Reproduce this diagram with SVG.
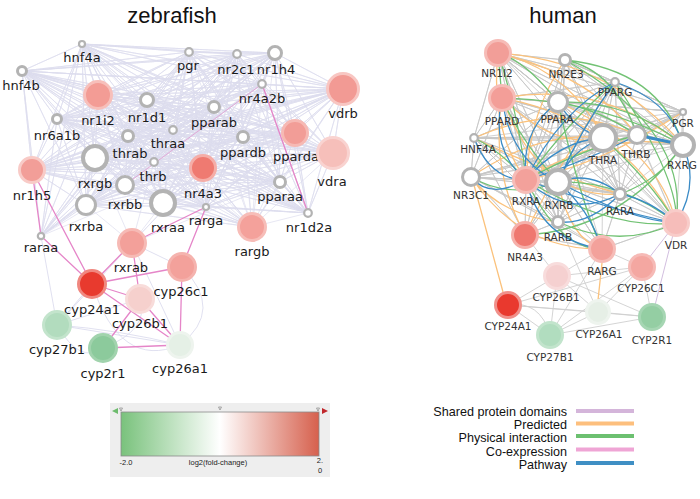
<svg xmlns="http://www.w3.org/2000/svg" width="700" height="499" viewBox="0 0 700 499">
<style>
.t{font-family:"Liberation Sans",Arial,sans-serif;font-size:22px;fill:#111;text-anchor:middle}
.zl{font-family:"DejaVu Sans",Verdana,sans-serif;font-size:13px;fill:#1a1a1a;text-anchor:middle}
.hl{font-family:"DejaVu Sans",Verdana,sans-serif;font-size:10.5px;fill:#333;text-anchor:middle}
.lg{font-family:"Liberation Sans",Arial,sans-serif;font-size:12.6px;fill:#111;text-anchor:end}
.cb{font-family:"Liberation Sans",Arial,sans-serif;font-size:7.5px;fill:#222;text-anchor:middle}
.g{fill:#fff;stroke:#b3b3b3;stroke-width:3}
.g2{fill:#fff;stroke:#b3b3b3;stroke-width:2.2}
.g4{fill:#fff;stroke:#b3b3b3;stroke-width:4}
.s{stroke-width:3}
.e{fill:none}
</style>
<defs>
<linearGradient id="fc" x1="0" y1="0" x2="1" y2="0">
<stop offset="0" stop-color="#79C27C"/>
<stop offset="0.5" stop-color="#FFFFFF"/>
<stop offset="1" stop-color="#D6604D"/>
</linearGradient>
</defs>
<rect width="700" height="499" fill="#fff"/>
<text class="t" x="172" y="23">zebrafish</text>
<text class="t" x="563" y="23">human</text>

<g id="connectors">
<g id="zebrafish-edges" class="e">
<path stroke="#DCDCEE" stroke-width="0.7" d="M82 44 22 71 82 44 189 52 82 44 237 54 82 44 275 53 82 44 98 95 82 44 147 100 82 44 57 119 82 44 214 107 82 44 262 84 82 44 343 89 82 44 128 136 82 44 173 130 82 44 243 137 82 44 295 133 82 44 333 153 82 44 32 170 82 44 95 158 82 44 154 162 82 44 203 168 82 44 280 182 82 44 125 185 82 44 86 205 82 44 163 203 82 44 206 207 82 44 308 213 82 44 41 236 82 44 252 227
M22 71 189 52 22 71 237 54 22 71 275 53 22 71 98 95 22 71 147 100 22 71 57 119 22 71 214 107 22 71 262 84 22 71 343 89 22 71 128 136 22 71 173 130 22 71 243 137 22 71 295 133 22 71 333 153 22 71 32 170 22 71 95 158 22 71 154 162 22 71 203 168 22 71 280 182 22 71 125 185 22 71 86 205 22 71 163 203 22 71 206 207 22 71 308 213 22 71 41 236 22 71 252 227
M189 52 237 54 189 52 275 53 189 52 98 95 189 52 147 100 189 52 57 119 189 52 214 107 189 52 262 84 189 52 343 89 189 52 128 136 189 52 173 130 189 52 243 137 189 52 295 133 189 52 333 153 189 52 32 170 189 52 95 158 189 52 154 162 189 52 203 168 189 52 280 182 189 52 125 185 189 52 86 205 189 52 163 203 189 52 206 207 189 52 308 213 189 52 41 236 189 52 252 227
M237 54 275 53 237 54 98 95 237 54 147 100 237 54 57 119 237 54 214 107 237 54 262 84 237 54 343 89 237 54 128 136 237 54 173 130 237 54 243 137 237 54 295 133 237 54 333 153 237 54 32 170 237 54 95 158 237 54 154 162 237 54 203 168 237 54 280 182 237 54 125 185 237 54 86 205 237 54 163 203 237 54 206 207 237 54 308 213 237 54 41 236 237 54 252 227
M275 53 98 95 275 53 147 100 275 53 57 119 275 53 214 107 275 53 262 84 275 53 343 89 275 53 128 136 275 53 173 130 275 53 243 137 275 53 295 133 275 53 333 153 275 53 32 170 275 53 95 158 275 53 154 162 275 53 203 168 275 53 280 182 275 53 125 185 275 53 86 205 275 53 163 203 275 53 206 207 275 53 308 213 275 53 41 236 275 53 252 227
M98 95 147 100 98 95 57 119 98 95 214 107 98 95 262 84 98 95 343 89 98 95 128 136 98 95 173 130 98 95 243 137 98 95 295 133 98 95 333 153 98 95 32 170 98 95 95 158 98 95 154 162 98 95 203 168 98 95 280 182 98 95 125 185 98 95 86 205 98 95 163 203 98 95 206 207 98 95 308 213 98 95 41 236 98 95 252 227
M147 100 57 119 147 100 214 107 147 100 262 84 147 100 343 89 147 100 128 136 147 100 173 130 147 100 243 137 147 100 295 133 147 100 333 153 147 100 32 170 147 100 95 158 147 100 154 162 147 100 203 168 147 100 280 182 147 100 125 185 147 100 86 205 147 100 163 203 147 100 206 207 147 100 308 213 147 100 41 236 147 100 252 227
M57 119 214 107 57 119 262 84 57 119 343 89 57 119 128 136 57 119 173 130 57 119 243 137 57 119 295 133 57 119 333 153 57 119 32 170 57 119 95 158 57 119 154 162 57 119 203 168 57 119 280 182 57 119 125 185 57 119 86 205 57 119 163 203 57 119 206 207 57 119 308 213 57 119 41 236 57 119 252 227
M214 107 262 84 214 107 343 89 214 107 128 136 214 107 173 130 214 107 243 137 214 107 295 133 214 107 333 153 214 107 32 170 214 107 95 158 214 107 154 162 214 107 203 168 214 107 280 182 214 107 125 185 214 107 86 205 214 107 163 203 214 107 206 207 214 107 308 213 214 107 41 236 214 107 252 227
M262 84 343 89 262 84 128 136 262 84 173 130 262 84 243 137 262 84 295 133 262 84 333 153 262 84 32 170 262 84 95 158 262 84 154 162 262 84 203 168 262 84 280 182 262 84 125 185 262 84 86 205 262 84 163 203 262 84 206 207 262 84 308 213 262 84 252 227
M343 89 128 136 343 89 173 130 343 89 243 137 343 89 295 133 343 89 333 153 343 89 32 170 343 89 95 158 343 89 154 162 343 89 203 168 343 89 280 182 343 89 125 185 343 89 86 205 343 89 163 203 343 89 206 207 343 89 308 213 343 89 252 227
M128 136 173 130 128 136 243 137 128 136 295 133 128 136 333 153 128 136 32 170 128 136 95 158 128 136 154 162 128 136 203 168 128 136 280 182 128 136 125 185 128 136 86 205 128 136 163 203 128 136 206 207 128 136 308 213 128 136 41 236 128 136 252 227
M173 130 243 137 173 130 295 133 173 130 333 153 173 130 32 170 173 130 95 158 173 130 154 162 173 130 203 168 173 130 280 182 173 130 125 185 173 130 86 205 173 130 163 203 173 130 206 207 173 130 308 213 173 130 41 236 173 130 252 227
M243 137 295 133 243 137 333 153 243 137 32 170 243 137 95 158 243 137 154 162 243 137 203 168 243 137 280 182 243 137 125 185 243 137 86 205 243 137 163 203 243 137 206 207 243 137 308 213 243 137 252 227
M295 133 333 153 295 133 32 170 295 133 95 158 295 133 154 162 295 133 203 168 295 133 280 182 295 133 125 185 295 133 86 205 295 133 163 203 295 133 206 207 295 133 308 213 295 133 252 227
M333 153 95 158 333 153 154 162 333 153 203 168 333 153 280 182 333 153 125 185 333 153 86 205 333 153 163 203 333 153 206 207 333 153 308 213 333 153 252 227
M32 170 95 158 32 170 154 162 32 170 203 168 32 170 280 182 32 170 125 185 32 170 86 205 32 170 163 203 32 170 206 207 32 170 252 227
M95 158 154 162 95 158 203 168 95 158 280 182 95 158 125 185 95 158 86 205 95 158 163 203 95 158 206 207 95 158 308 213 95 158 41 236 95 158 252 227 95 158 132 243
M154 162 203 168 154 162 280 182 154 162 125 185 154 162 86 205 154 162 163 203 154 162 206 207 154 162 308 213 154 162 252 227 154 162 132 243
M203 168 280 182 203 168 125 185 203 168 86 205 203 168 163 203 203 168 206 207 203 168 308 213 203 168 252 227 203 168 132 243 203 168 41 236
M280 182 125 185 280 182 86 205 280 182 163 203 280 182 206 207 280 182 308 213 280 182 252 227 280 182 132 243
M125 185 86 205 125 185 163 203 125 185 206 207 125 185 252 227 125 185 41 236
M86 205 163 203 86 205 206 207 86 205 252 227 86 205 41 236 86 205 132 243
M163 203 206 207 163 203 308 213 163 203 252 227 163 203 132 243
M206 207 308 213 206 207 252 227 M308 213 252 227"/>
<path stroke="#DCDCEE" stroke-width="0.9" d="M57 325L140 299M57 325L180 345M57 325Q80 365 103 348M57 325L92 284M182 267Q225 310 180 345M92 284Q120 370 180 345M132 243L182 267M132 243L57 325M132 243L180 345M41 236L57 325M140 299Q150 330 103 348M57 325Q120 330 180 345"/>
<path stroke="#E585C8" stroke-width="1.3" d="M32 170L41 236M32 170L92 284M41 236L92 284M132 243L92 284M132 243L140 299M132 243L206 207M206 207L182 267M92 284L182 267M92 284L140 299M92 284L180 345M140 299L180 345M182 267L180 345M140 299L103 348M103 348L180 345M262 84L308 213"/>
<path stroke="#E585C8" stroke-width="1" opacity="0.6" d="M125 185L262 84"/>
</g>
<g id="human-edges" class="e">
<path stroke="#C6C6C6" stroke-width="0.8" d="M498 53 565 60 498 53 615 82 498 53 558 102 498 53 683 112 498 53 603 138 498 53 637 135 498 53 683 145 498 53 526 180 498 53 558 182 498 53 620 194 498 53 558 222 498 53 676 223
M502 98 615 82 502 98 558 102 502 98 683 112 502 98 603 138 502 98 637 135 502 98 683 145 502 98 526 180 502 98 558 182 502 98 620 194 502 98 558 222 502 98 676 223 502 98 602 249
M474 138 498 53 474 138 502 98 474 138 558 102 474 138 603 138 474 138 637 135 474 138 683 145 474 138 526 180 474 138 558 182 474 138 620 194 474 138 558 222 474 138 471 177 474 138 525 235 474 138 683 112
M471 177 502 98 471 177 558 102 471 177 603 138 471 177 637 135 471 177 683 145 471 177 526 180 471 177 558 182 471 177 620 194 471 177 558 222 471 177 525 235 471 177 602 249 471 177 683 112
M683 112 565 60 683 112 615 82 683 112 558 102 683 112 603 138 683 112 637 135 683 112 683 145 683 112 526 180 683 112 558 182 683 112 620 194 683 112 558 222 683 112 676 223
M565 60 615 82 565 60 558 102 565 60 603 138 565 60 637 135 565 60 683 145 565 60 526 180 565 60 558 182 565 60 620 194 565 60 558 222
M615 82 558 102 615 82 603 138 615 82 637 135 615 82 683 145 615 82 526 180 615 82 558 182 615 82 620 194 615 82 558 222 615 82 676 223
M558 102 603 138 558 102 637 135 558 102 683 145 558 102 526 180 558 102 558 182 558 102 620 194 558 102 558 222 558 102 525 235 558 102 676 223 558 102 602 249
M603 138 637 135 603 138 683 145 603 138 526 180 603 138 558 182 603 138 620 194 603 138 558 222 603 138 525 235 603 138 676 223 603 138 602 249
M526 180 558 182 526 180 620 194 526 180 558 222 526 180 525 235 526 180 602 249
M558 182 620 194 558 182 558 222 558 182 525 235 558 182 602 249 558 182 676 223 558 182 683 145
M620 194 558 222 620 194 676 223 620 194 602 249 620 194 683 145
M525 235 602 249 525 235 558 222 525 235 558 182 M602 249 676 223 602 249 558 222
M637 135 683 145 637 135 526 180 637 135 620 194 637 135 676 223"/>
<path stroke="#CFCFCF" stroke-width="0.9" d="M508 305L557 276M508 305L598 312M508 305L652 317M508 305L550 335M508 305L642 267M557 276L642 267M557 276L598 312M557 276L652 317M557 276L550 335M642 267L598 312M642 267L550 335M642 267L652 317M598 312L652 317M598 312L550 335M550 335L652 317M602 249L557 276M602 249L550 335M558 222L598 312M602 249L642 267M525 235L557 276M508 305Q540 300 550 335"/>
<path stroke="#D2BEDF" stroke-width="1" d="M676 223L652 317M676 223L642 267"/>
<path stroke="#FBC27C" stroke-width="1.3" d="M498 53Q570 70 603 138M498 53Q610 60 683 145M498 53Q590 75 637 135M502 98Q600 80 683 145M502 98Q620 120 676 223M502 98Q540 200 620 194M502 98Q555 150 603 138M471 177Q520 250 602 249M471 177Q500 215 558 222M474 138Q560 100 637 135M558 102Q660 150 676 223M526 180Q600 130 683 145M565 60Q530 110 526 180M502 98Q490 170 525 235M683 112Q600 165 526 180M471 177Q540 130 603 138M615 82Q560 160 525 235M474 138Q550 175 620 194M558 182Q570 240 602 249M498 53Q490 130 526 180M474 185L503 292M602 263L598 300"/>
<path stroke="#72C274" stroke-width="1.3" d="M565 60Q660 70 683 145M565 60Q615 70 637 135M565 60Q690 130 676 223M558 102Q630 100 683 145M558 102Q600 110 637 135M498 53Q525 60 558 102M502 98Q520 140 558 182M498 53Q520 120 526 180M615 82Q570 120 526 180M526 180Q580 150 637 135M526 180Q610 230 676 223M558 182Q620 180 676 223M683 145Q660 180 620 194M683 145Q620 230 525 235M603 138Q650 180 676 223M615 82Q680 180 676 223M474 138Q500 150 526 180M471 177Q510 200 558 182M558 222Q620 250 676 223M502 98Q600 100 683 145M526 180Q560 250 602 249M558 102Q580 200 602 249M498 53L502 98"/>
<path stroke="#3A8BC6" stroke-width="1.3" d="M615 82Q670 100 683 145M615 82Q560 110 526 180M615 82Q580 130 558 182M603 138Q560 140 526 180M526 180Q570 220 620 194M558 182Q590 170 620 194M558 222Q590 225 620 194M526 180Q610 210 676 223M558 182Q630 220 676 223M502 98Q510 160 558 182M558 102Q520 130 526 180M474 138Q490 180 526 180M471 177Q490 200 526 180M502 98Q490 150 526 180M603 138Q570 150 558 182M683 145Q700 185 676 223M602 249Q540 240 526 180M602 249Q590 210 558 182M620 194Q650 200 676 223M558 102Q575 130 603 138M526 180Q590 160 637 135"/>
<path stroke="#3A8BC6" stroke-width="3" d="M637 135L683 145"/>
</g>
</g>

<g id="zebrafish-nodes">
<g id="z-hnf4a"><circle cx="82" cy="44" r="3" class="g2"/><text class="zl" x="82" y="62">hnf4a</text></g>
<g id="z-hnf4b"><circle cx="22" cy="71" r="4.5" class="g"/><text class="zl" x="21" y="90">hnf4b</text></g>
<g id="z-pgr"><circle cx="189" cy="52" r="3.8" class="g2"/><text class="zl" x="188" y="70">pgr</text></g>
<g id="z-nr2c1"><circle cx="237" cy="54" r="3.8" class="g2"/><text class="zl" x="236" y="74">nr2c1</text></g>
<g id="z-nr1h4"><circle cx="275" cy="53" r="6.5" class="g"/><text class="zl" x="276" y="74">nr1h4</text></g>
<g id="z-nr1i2"><circle cx="98" cy="95" r="13.5" fill="#F39C95" stroke="#F7BFBA" class="s"/><text class="zl" x="98" y="125">nr1i2</text></g>
<g id="z-nr1d1"><circle cx="147" cy="100" r="6.5" class="g"/><text class="zl" x="147" y="122">nr1d1</text></g>
<g id="z-nr6a1b"><circle cx="57" cy="119" r="4.5" class="g"/><text class="zl" x="57" y="140">nr6a1b</text></g>
<g id="z-pparab"><circle cx="214" cy="107" r="5.5" class="g"/><text class="zl" x="214" y="127">pparab</text></g>
<g id="z-nr4a2b"><circle cx="262" cy="84" r="3.8" class="g2"/><text class="zl" x="262" y="103">nr4a2b</text></g>
<g id="z-vdrb"><circle cx="343" cy="89" r="15.5" fill="#F29A94" stroke="#F8C6C2" class="s"/><text class="zl" x="343" y="118">vdrb</text></g>
<g id="z-thrab"><circle cx="128" cy="136" r="5.5" class="g"/><text class="zl" x="130" y="158">thrab</text></g>
<g id="z-thraa"><circle cx="173" cy="130" r="3.8" class="g2"/><text class="zl" x="168" y="148">thraa</text></g>
<g id="z-ppardb"><circle cx="243" cy="137" r="5.5" class="g"/><text class="zl" x="243" y="157">ppardb</text></g>
<g id="z-pparda"><circle cx="295" cy="133" r="12.5" fill="#F29D97" stroke="#F6B9B4" class="s"/><text class="zl" x="296" y="161">pparda</text></g>
<g id="z-vdra"><circle cx="333" cy="153" r="15.5" fill="#F6BFBA" stroke="#F9D3D0" class="s"/><text class="zl" x="332" y="186">vdra</text></g>
<g id="z-nr1h5"><circle cx="32" cy="170" r="12.5" fill="#F29E98" stroke="#F8CBC7" class="s"/><text class="zl" x="32" y="200">nr1h5</text></g>
<g id="z-rxrgb"><circle cx="95" cy="158" r="12" class="g4"/><text class="zl" x="95" y="188">rxrgb</text></g>
<g id="z-thrb"><circle cx="154" cy="162" r="3.8" class="g2"/><text class="zl" x="153" y="181">thrb</text></g>
<g id="z-nr4a3"><circle cx="203" cy="168" r="12.5" fill="#EF7A71" stroke="#F5ADA7" class="s"/><text class="zl" x="203" y="198">nr4a3</text></g>
<g id="z-pparaa"><circle cx="280" cy="182" r="5.5" class="g"/><text class="zl" x="280" y="201">pparaa</text></g>
<g id="z-rxrbb"><circle cx="125" cy="185" r="8.5" class="g"/><text class="zl" x="125" y="209">rxrbb</text></g>
<g id="z-rxrba"><circle cx="86" cy="205" r="9.5" class="g"/><text class="zl" x="86" y="231">rxrba</text></g>
<g id="z-rxraa"><circle cx="163" cy="203" r="12" class="g4"/><text class="zl" x="168" y="232">rxraa</text></g>
<g id="z-rarga"><circle cx="206" cy="207" r="3" class="g2"/><text class="zl" x="206" y="225">rarga</text></g>
<g id="z-nr1d2a"><circle cx="308" cy="213" r="3.8" class="g2"/><text class="zl" x="309" y="232">nr1d2a</text></g>
<g id="z-raraa"><circle cx="41" cy="236" r="3.2" class="g2"/><text class="zl" x="41" y="252">raraa</text></g>
<g id="z-rargb"><circle cx="252" cy="227" r="13.5" fill="#F4A19B" stroke="#F7BDB8" class="s"/><text class="zl" x="252" y="256">rargb</text></g>
<g id="z-rxrab"><circle cx="132" cy="243" r="13.5" fill="#F3A09A" stroke="#F6BAB5" class="s"/><text class="zl" x="131" y="272">rxrab</text></g>
<g id="z-cyp24a1"><circle cx="92" cy="284" r="13.5" fill="#E83A2E" stroke="#F0877F" class="s"/><text class="zl" x="92" y="314">cyp24a1</text></g>
<g id="z-cyp26c1"><circle cx="182" cy="267" r="13.5" fill="#F3A19B" stroke="#F5B3AE" class="s"/><text class="zl" x="181" y="296">cyp26c1</text></g>
<g id="z-cyp26b1"><circle cx="140" cy="299" r="13.5" fill="#F6D0CD" stroke="#F8DCDA" class="s"/><text class="zl" x="140" y="328">cyp26b1</text></g>
<g id="z-cyp27b1"><circle cx="57" cy="325" r="13.5" fill="#B2DCBE" stroke="#C3E4CC" class="s"/><text class="zl" x="57" y="354">cyp27b1</text></g>
<g id="z-cyp2r1"><circle cx="103" cy="348" r="13.5" fill="#8CCA9C" stroke="#A1D3AD" class="s"/><text class="zl" x="103" y="378">cyp2r1</text></g>
<g id="z-cyp26a1"><circle cx="180" cy="345" r="12.5" fill="#E5F0E6" stroke="#EEF4EE" class="s"/><text class="zl" x="180" y="373">cyp26a1</text></g>
</g>

<g id="human-nodes">
<g id="h-NR1I2"><circle cx="498" cy="53" r="12.5" fill="#F29E98" stroke="#F6BCB7" class="s"/><text class="hl" x="497" y="77">NR1I2</text></g>
<g id="h-NR2E3"><circle cx="565" cy="60" r="5.5" class="g"/><text class="hl" x="566" y="78">NR2E3</text></g>
<g id="h-PPARG"><circle cx="615" cy="82" r="3.8" class="g2"/><text class="hl" x="615" y="96">PPARG</text></g>
<g id="h-PPARD"><circle cx="502" cy="98" r="12.5" fill="#F39E98" stroke="#F6BCB7" class="s"/><text class="hl" x="502" y="125">PPARD</text></g>
<g id="h-PPARA"><circle cx="558" cy="102" r="9.5" class="g"/><text class="hl" x="557" y="123">PPARA</text></g>
<g id="h-PGR"><circle cx="683" cy="112" r="3" class="g2"/><text class="hl" x="683" y="127">PGR</text></g>
<g id="h-HNF4A"><circle cx="474" cy="138" r="3.8" class="g2"/><text class="hl" x="478" y="153">HNF4A</text></g>
<g id="h-THRA"><circle cx="603" cy="138" r="13" class="g4"/><text class="hl" x="603" y="164">THRA</text></g>
<g id="h-THRB"><circle cx="637" cy="135" r="8.5" class="g"/><text class="hl" x="636" y="158">THRB</text></g>
<g id="h-RXRG"><circle cx="683" cy="145" r="11" class="g4"/><text class="hl" x="682" y="169">RXRG</text></g>
<g id="h-NR3C1"><circle cx="471" cy="177" r="8.5" class="g"/><text class="hl" x="471" y="199">NR3C1</text></g>
<g id="h-RXRA"><circle cx="526" cy="180" r="12.5" fill="#F3A19B" stroke="#F6BDB8" class="s"/><text class="hl" x="526" y="205">RXRA</text></g>
<g id="h-RXRB"><circle cx="558" cy="182" r="12" class="g4"/><text class="hl" x="559" y="209">RXRB</text></g>
<g id="h-RARA"><circle cx="620" cy="194" r="5.5" class="g"/><text class="hl" x="620" y="215">RARA</text></g>
<g id="h-RARB"><circle cx="558" cy="222" r="5.5" class="g"/><text class="hl" x="558" y="241">RARB</text></g>
<g id="h-NR4A3"><circle cx="525" cy="235" r="12.5" fill="#EF7870" stroke="#F6B0AA" class="s"/><text class="hl" x="525" y="261">NR4A3</text></g>
<g id="h-VDR"><circle cx="676" cy="223" r="12.5" fill="#F6BDBA" stroke="#F8CCC9" class="s"/><text class="hl" x="676" y="249">VDR</text></g>
<g id="h-RARG"><circle cx="602" cy="249" r="12.5" fill="#F3A19B" stroke="#F6BCB7" class="s"/><text class="hl" x="602" y="275">RARG</text></g>
<g id="h-CYP26C1"><circle cx="642" cy="267" r="12.5" fill="#F4A7A1" stroke="#F6BAB6" class="s"/><text class="hl" x="641" y="292">CYP26C1</text></g>
<g id="h-CYP26B1"><circle cx="557" cy="276" r="12.5" fill="#F5D0D0" stroke="#F8DCDC" class="s"/><text class="hl" x="556" y="301">CYP26B1</text></g>
<g id="h-CYP24A1"><circle cx="508" cy="305" r="12.5" fill="#E9392E" stroke="#F0908A" class="s"/><text class="hl" x="508" y="330">CYP24A1</text></g>
<g id="h-CYP26A1"><circle cx="598" cy="312" r="11.5" fill="#E6EFE6" stroke="#EEF4EE" class="s"/><text class="hl" x="599" y="338">CYP26A1</text></g>
<g id="h-CYP2R1"><circle cx="652" cy="317" r="12.5" fill="#94CEA3" stroke="#A6D6B3" class="s"/><text class="hl" x="652" y="344">CYP2R1</text></g>
<g id="h-CYP27B1"><circle cx="550" cy="335" r="12.5" fill="#B1DDBF" stroke="#C2E4CC" class="s"/><text class="hl" x="550" y="361">CYP27B1</text></g>
</g>

<g id="colorbar">
<rect x="110" y="403" width="220" height="74" fill="#EEEEEE"/>
<rect x="121" y="412" width="198" height="44" fill="url(#fc)" stroke="#8a8a8a" stroke-width="0.8"/>
<path d="M112 411L118 408L118 414Z" fill="#6DBB6D"/>
<path d="M328 411L322 408L322 414Z" fill="#C0282D"/>
<path d="M119.5 408h3l-1.5 3z M218.5 407h3l-1.5 3z M316.5 408h3l-1.5 3z" fill="none" stroke="#888" stroke-width="0.7"/>
<text class="cb" x="126" y="465">-2.0</text>
<text class="cb" x="218" y="465">log2(fold-change)</text>
<text class="cb" x="320" y="463">2.</text>
<text class="cb" x="320" y="473">0</text>
</g>

<g id="legend">
<text class="lg" x="567" y="415.5">Shared protein domains</text>
<text class="lg" x="567" y="428.5">Predicted</text>
<text class="lg" x="567" y="442">Physical interaction</text>
<text class="lg" x="567" y="455.5">Co-expression</text>
<text class="lg" x="567" y="469">Pathway</text>
<path d="M576 411H634" stroke="#D4B5DA" stroke-width="4"/>
<path d="M576 423.5H634" stroke="#FDBF7D" stroke-width="4"/>
<path d="M576 436H634" stroke="#6CC070" stroke-width="4"/>
<path d="M576 449.5H634" stroke="#EFA5D5" stroke-width="4"/>
<path d="M576 463H634" stroke="#3F8FC4" stroke-width="4"/>
</g>
</svg>
